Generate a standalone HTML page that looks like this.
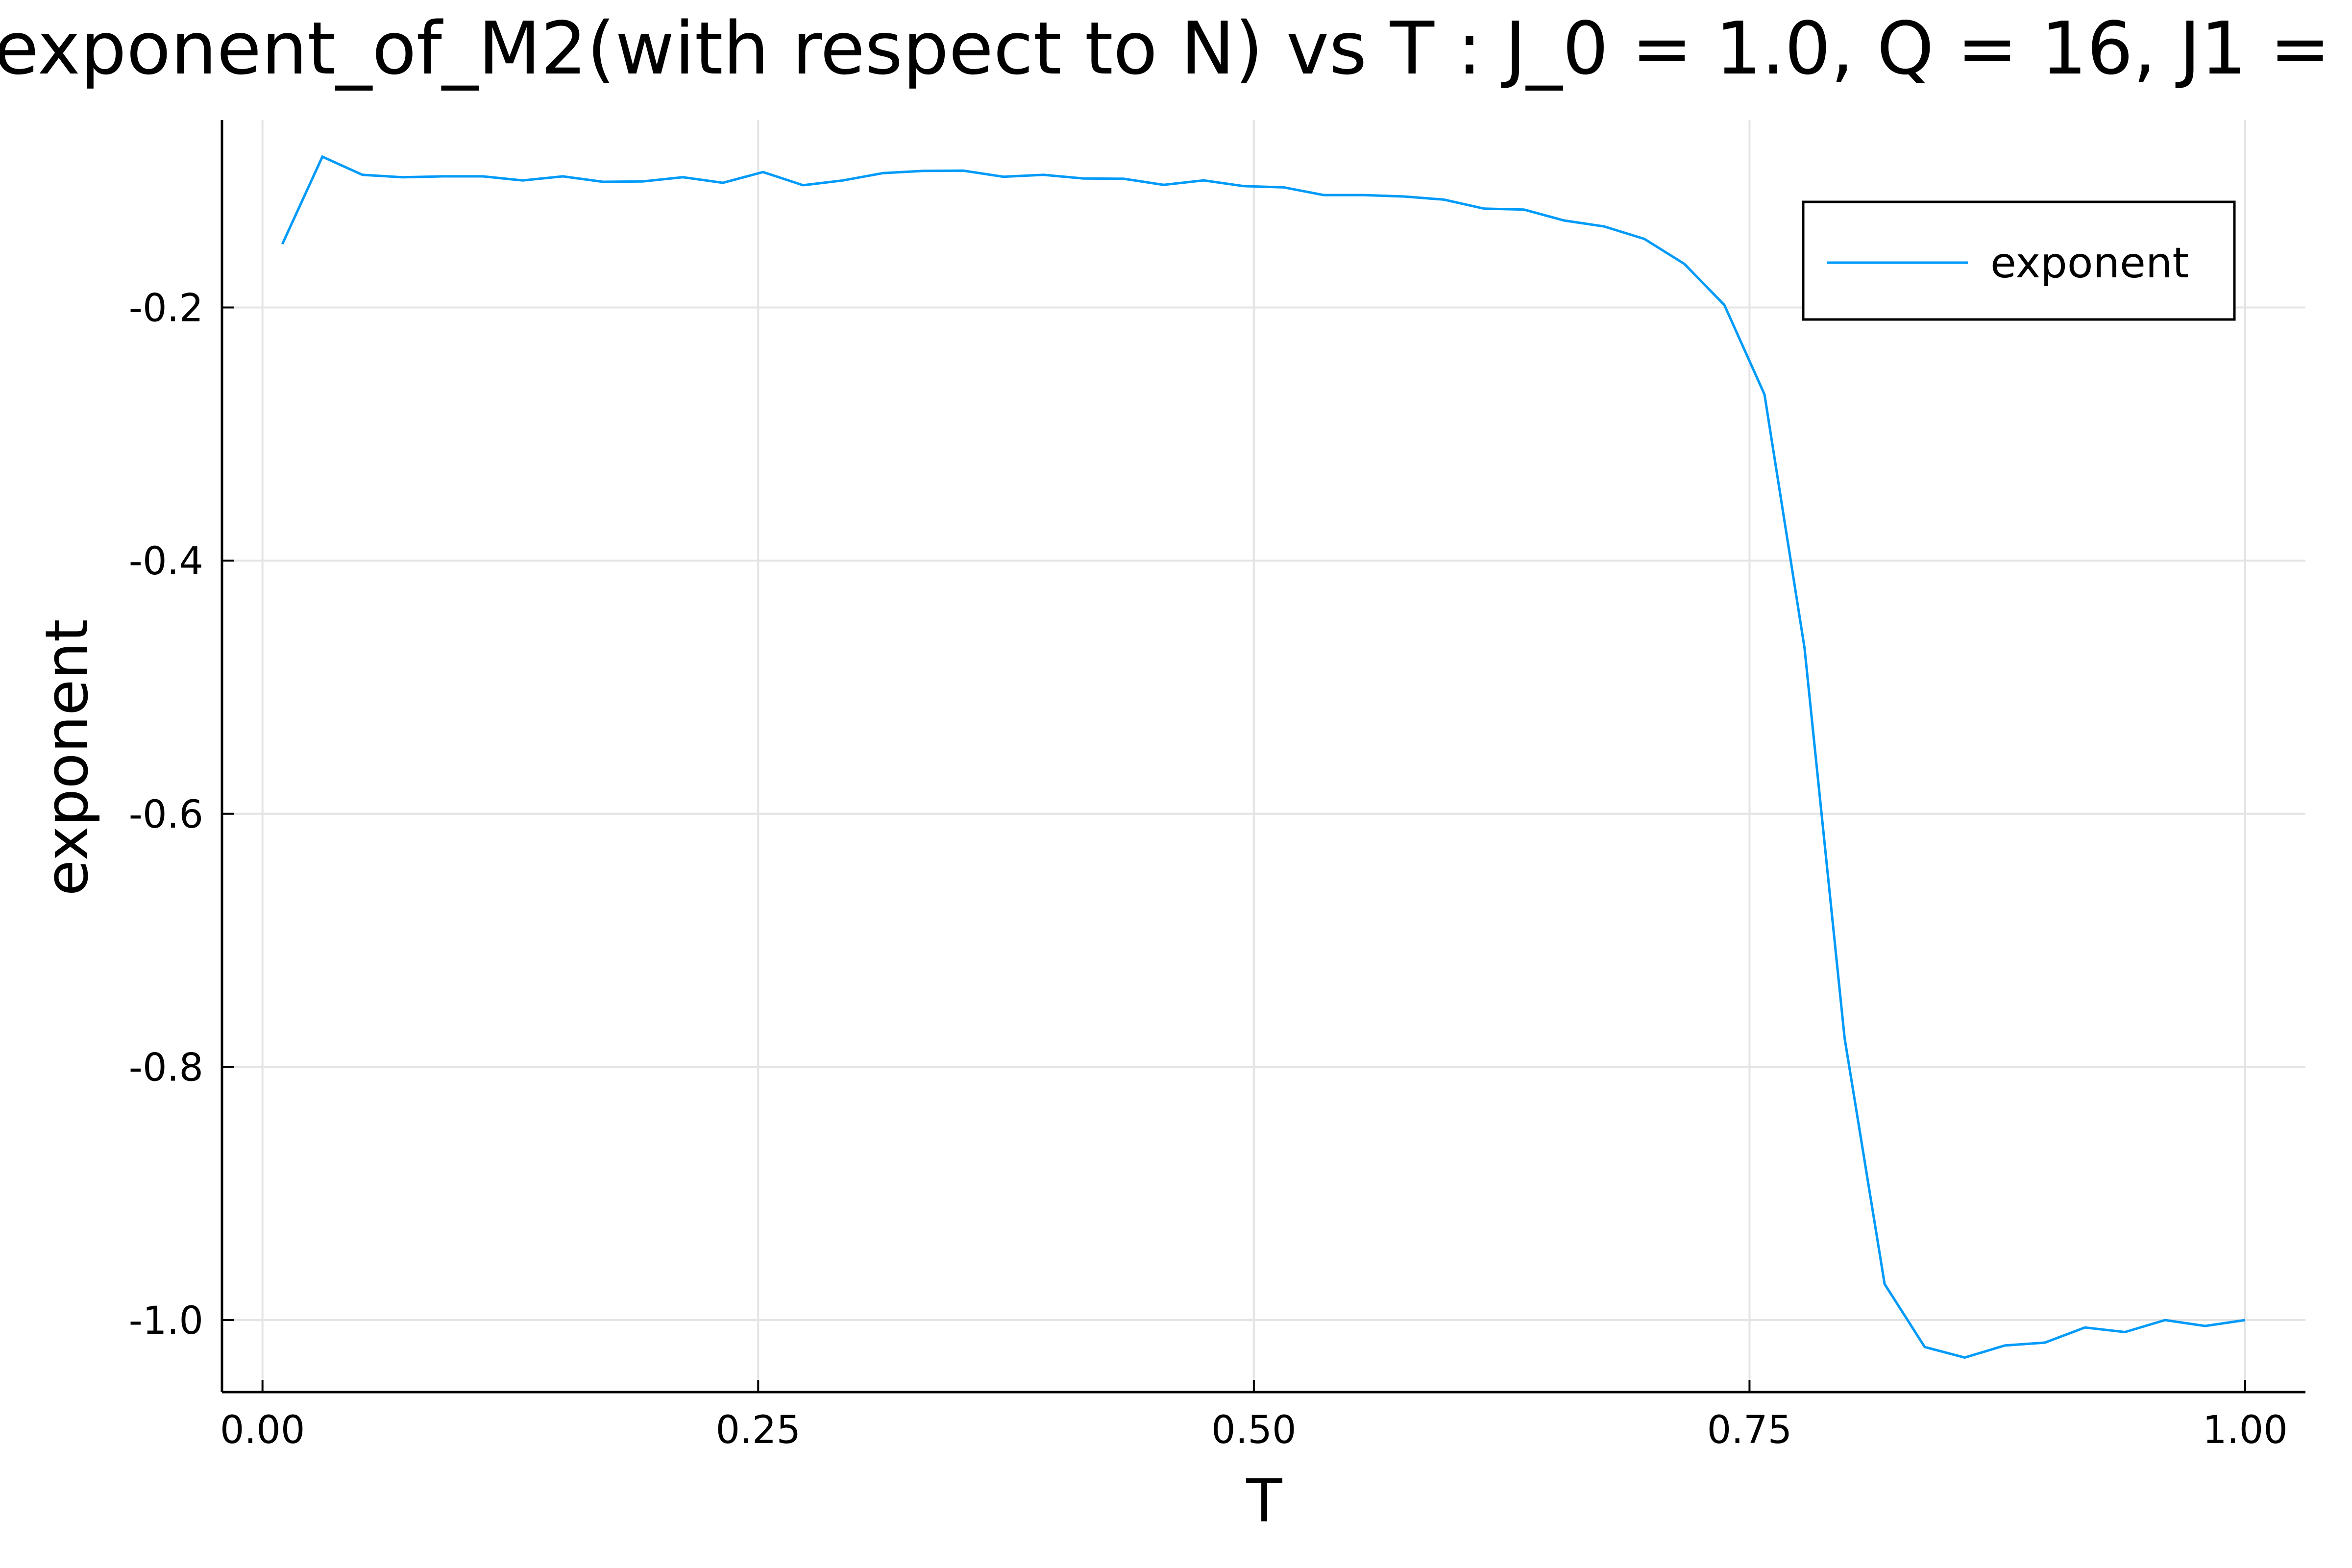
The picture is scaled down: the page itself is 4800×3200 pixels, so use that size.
<!DOCTYPE html>
<html><head><meta charset="utf-8"><style>html,body{margin:0;padding:0;background:#fff}svg{display:block}text{font-family:"DejaVu Sans","Liberation Sans",sans-serif}</style></head>
<body>
<svg id="chart" width="4800" height="3200" viewBox="0 0 4800 3200">
<text x="-12" y="150" font-size="148">exponent_of_M2(with respect to N) vs T : J_0 = 1.0, Q = 16, J1 = 1.0</text>
<g id="grid"></g>
<g id="axes"></g>
<g id="series"></g>
<text x="2580" y="3105" font-size="120" text-anchor="middle">T</text>
<text transform="translate(178,1546) rotate(-90)" font-size="120" text-anchor="middle">exponent</text>
<g>
<rect x="3680" y="412" width="880" height="240" fill="#fff" stroke="#000" stroke-width="5"/>
<line x1="3728" y1="536" x2="4016" y2="536" stroke="#009af9" stroke-width="5"/>
<text x="4062" y="566" font-size="86">exponent</text>
</g>
</svg>
<script>
const tValues = [];
for (let i = 0; i < 50; i++) tValues.push(0.01 + i * 0.99 / 49);
const exponentValues = [-0.1499,-0.0809,-0.0952,-0.0971,-0.0964,-0.0964,-0.0996,-0.0964,-0.1007,-0.1004,
-0.0971,-0.1015,-0.0930,-0.1034,-0.0996,-0.0938,-0.0921,-0.0919,-0.0967,-0.0952,
-0.0981,-0.0983,-0.1031,-0.0996,-0.1041,-0.1051,-0.1112,-0.1112,-0.1123,-0.1148,
-0.1219,-0.1227,-0.1313,-0.1360,-0.1458,-0.1656,-0.1981,-0.2687,-0.4690,-0.7772,
-0.9716,-1.0213,-1.0296,-1.0201,-1.0178,-1.0059,-1.0095,-1.0000,-1.0047,-1.0000];
const xTicks = [0, 0.25, 0.5, 0.75, 1.0];
const xTickLabels = ["0.00","0.25","0.50","0.75","1.00"];
const yTicks = [-0.2, -0.4, -0.6, -0.8, -1.0];
const yTickLabels = ["-0.2","-0.4","-0.6","-0.8","-1.0"];

const NS = "http://www.w3.org/2000/svg";
const L = 453, R = 4705, T = 245, B = 2841;
function xs(t){ return 535.7 + t * (4582 - 535.7); }
function ys(v){ return 627.5 + (-0.2 - v) / 0.8 * (2694 - 627.5); }
function mk(tag, attrs, parent){ const e = document.createElementNS(NS, tag); for (const k in attrs) e.setAttribute(k, attrs[k]); parent.appendChild(e); return e; }
const grid = document.getElementById('grid'), axes = document.getElementById('axes'), series = document.getElementById('series');
xTicks.forEach((t, i) => {
  const g = mk('line', {x1: xs(t), x2: xs(t), y1: T, y2: B, stroke: '#e4e4e4', 'stroke-width': 4}, grid);
  
  
  const tk = mk('line', {x1: xs(t), x2: xs(t), y1: B, y2: B - 25, stroke: '#000', 'stroke-width': 4}, axes);
  
  
  const lb = mk('text', {x: xs(t), y: 2945, 'font-size': 78, 'text-anchor': 'middle'}, axes);
  lb.textContent = xTickLabels[i];
  
  
});
yTicks.forEach((v, i) => {
  const g = mk('line', {x1: L, x2: R, y1: ys(v), y2: ys(v), stroke: '#e4e4e4', 'stroke-width': 4}, grid);
  
  
  const tk = mk('line', {x1: L, x2: L + 25, y1: ys(v), y2: ys(v), stroke: '#000', 'stroke-width': 4}, axes);
  
  
  const lb = mk('text', {x: 415, y: ys(v) + 28, 'font-size': 78, 'text-anchor': 'end'}, axes);
  lb.textContent = yTickLabels[i];
  
  
});
const xa = mk('line', {x1: L, x2: R, y1: B, y2: B, stroke: '#000', 'stroke-width': 5}, axes);


const ya = mk('line', {x1: L, x2: L, y1: T, y2: B, stroke: '#000', 'stroke-width': 5}, axes);


const pts = tValues.map((t, i) => xs(t).toFixed(1) + ',' + ys(exponentValues[i]).toFixed(1)).join(' ');
const pl = mk('polyline', {points: pts, fill: 'none', stroke: '#009af9', 'stroke-width': 5, 'stroke-linejoin': 'miter'}, series);


</script>
</body></html>
